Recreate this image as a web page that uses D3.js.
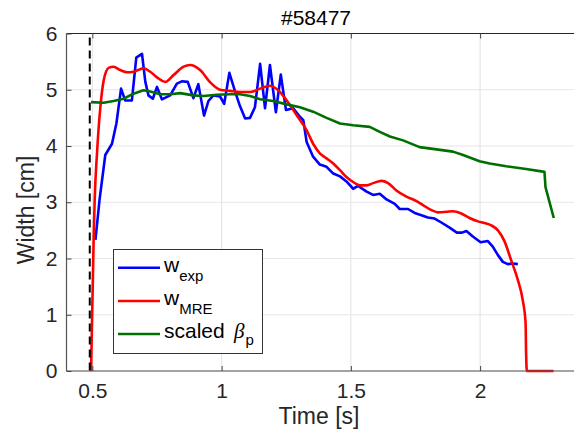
<!DOCTYPE html>
<html><head><meta charset="utf-8">
<script src="https://cdn.jsdelivr.net/npm/d3@7"></script>
<style>
html,body{margin:0;padding:0;background:#fff;}
svg{display:block;font-family:"Liberation Sans",Arial,sans-serif;}
</style></head>
<body><svg id="c" width="574" height="438"></svg>
<script>
// ---- data ----
const title = "#58477";
const xTicks = [0.5, 1, 1.5, 2];
const xTickLabels = ["0.5", "1", "1.5", "2"];
const yTicks = [0, 1, 2, 3, 4, 5, 6];
const yTickLabels = ["0", "1", "2", "3", "4", "5", "6"];
const dashedTime = 0.49;

const tExp = [0.512,0.528,0.550,0.576,0.593,0.611,0.627,0.653,0.670,0.692,0.705,0.717,0.734,0.750,0.769,0.801,0.827,0.846,0.869,0.891,0.910,0.932,0.949,0.968,0.994,1.010,1.030,1.052,1.071,1.091,1.110,1.129,1.149,1.168,1.187,1.210,1.229,1.249,1.277,1.303,1.316,1.329,1.354,1.380,1.406,1.432,1.458,1.483,1.509,1.528,1.561,1.586,1.612,1.638,1.670,1.689,1.721,1.747,1.773,1.798,1.824,1.850,1.882,1.910,1.930,1.947,1.972,2.002,2.030,2.049,2.069,2.088,2.107,2.127,2.146];
const wExp = [2.33,3.05,3.84,4.04,4.40,5.02,4.81,4.81,5.57,5.64,5.14,4.90,4.84,5.05,4.83,4.90,5.11,5.15,5.14,4.85,5.10,4.54,4.80,4.90,4.88,4.75,5.30,4.97,4.71,4.49,4.50,4.69,5.46,4.67,5.44,4.60,5.27,4.64,4.67,4.52,4.46,4.07,3.81,3.67,3.63,3.51,3.46,3.37,3.24,3.29,3.19,3.13,3.15,3.05,2.97,2.88,2.88,2.81,2.77,2.73,2.71,2.64,2.55,2.46,2.46,2.49,2.39,2.29,2.31,2.21,2.06,1.94,1.90,1.91,1.90];

const tMre = [0.495,0.505,0.509,0.518,0.531,0.544,0.563,0.582,0.608,0.634,0.659,0.698,0.724,0.750,0.782,0.814,0.853,0.878,0.917,0.956,0.994,1.033,1.071,1.110,1.149,1.187,1.219,1.252,1.290,1.329,1.354,1.380,1.406,1.432,1.458,1.483,1.509,1.535,1.561,1.586,1.619,1.644,1.676,1.715,1.754,1.779,1.812,1.837,1.870,1.895,1.927,1.959,1.992,2.017,2.043,2.069,2.095,2.120,2.146,2.165,2.176,2.178,2.181,2.284];
const wMre = [0.00,2.33,3.04,3.87,4.69,5.17,5.39,5.41,5.35,5.31,5.32,5.38,5.32,5.22,5.14,5.26,5.41,5.44,5.35,5.13,5.00,4.98,4.96,4.96,5.02,5.07,4.99,4.81,4.55,4.28,4.04,3.87,3.78,3.69,3.57,3.45,3.36,3.30,3.30,3.34,3.38,3.34,3.21,3.10,3.02,2.95,2.86,2.82,2.83,2.84,2.80,2.72,2.66,2.63,2.59,2.50,2.30,1.97,1.62,1.26,0.85,0.31,0.00,0.00];

const tBeta = [0.495,0.544,0.582,0.621,0.659,0.698,0.724,0.763,0.801,0.840,0.891,0.930,0.981,1.033,1.071,1.110,1.149,1.200,1.252,1.303,1.354,1.406,1.458,1.509,1.573,1.612,1.651,1.702,1.766,1.831,1.895,1.934,1.998,2.037,2.101,2.178,2.249,2.253,2.285];
const wBeta = [4.78,4.77,4.80,4.84,4.93,4.99,4.97,4.92,4.92,4.94,4.90,4.89,4.91,4.92,4.92,4.89,4.83,4.80,4.74,4.69,4.61,4.50,4.40,4.37,4.34,4.25,4.17,4.10,3.98,3.94,3.90,3.84,3.73,3.69,3.64,3.59,3.54,3.27,2.72];

const series = [
  {t: tExp, w: wExp, color: "#0000ff", curve: d3.curveLinear},
  {t: tMre, w: wMre, color: "#ff0000", curve: d3.curveMonotoneX},
  {t: tBeta, w: wBeta, color: "#006f00", curve: d3.curveLinear}
];

// ---- layout ----
const svg = d3.select("#c");
svg.append("rect").attr("width",574).attr("height",438).attr("fill","#fff");
const x = d3.scaleLinear().domain([0.4, 2.4]).range([66.5, 583.5]);
const y = d3.scaleLinear().domain([0, 6]).range([371, 33.5]);
const L = 66.5, R = 583.5, T = 33.5, B = 371;

// grid
const g = svg.append("g");
g.selectAll("line.gx").data(xTicks).join("line")
  .attr("x1",d=>x(d)).attr("x2",d=>x(d)).attr("y1",T).attr("y2",B)
  .attr("stroke","#e6e6e6").attr("stroke-width",1.2);
g.selectAll("line.gy").data(yTicks).join("line")
  .attr("x1",L).attr("x2",R).attr("y1",d=>y(d)).attr("y2",d=>y(d))
  .attr("stroke","#e6e6e6").attr("stroke-width",1.2);

// series
svg.append("clipPath").attr("id","cp").append("rect")
  .attr("x",L).attr("y",T).attr("width",R-L).attr("height",B-T+2);
series.forEach(s=>{
  const pts = s.t.map((t,i)=>[t, s.w[i]]);
  svg.append("path").datum(pts)
    .attr("d", d3.line().x(d=>x(d[0])).y(d=>y(d[1])).curve(s.curve))
    .attr("fill","none").attr("stroke",s.color).attr("stroke-width",2.6)
    .attr("stroke-linejoin","round").attr("clip-path","url(#cp)");
});

// dashed vertical line
svg.append("line").attr("x1",x(dashedTime)).attr("x2",x(dashedTime))
  .attr("y1",y(6)+4).attr("y2",y(0))
  .attr("stroke","#000").attr("stroke-width",2).attr("stroke-dasharray","8,5");

// axes frame
svg.append("line").attr("x1",L).attr("x2",R).attr("y1",T).attr("y2",T).attr("stroke","#262626").attr("stroke-width",1);
svg.append("line").attr("x1",L).attr("x2",R).attr("y1",B).attr("y2",B).attr("stroke","#555").attr("stroke-width",1.2);
svg.append("line").attr("x1",L).attr("x2",L).attr("y1",T).attr("y2",B).attr("stroke","#555").attr("stroke-width",1.2);

// ticks
const axX = d3.axisBottom(x).tickValues(xTicks).tickSize(-5).tickFormat((d,i)=>xTickLabels[i]);
const axXg = svg.append("g").attr("transform",`translate(0,${B})`).call(axX);
axXg.select(".domain").remove();
axXg.selectAll(".tick line").attr("stroke","#444");
axXg.selectAll(".tick text").attr("y",12).attr("dy","0.71em").attr("font-size",21).attr("fill","#262626")
  .attr("font-family","Liberation Sans, Arial, sans-serif");
const axXt = d3.axisTop(x).tickValues(xTicks).tickSize(-5).tickFormat("");
const axXtg = svg.append("g").attr("transform",`translate(0,${T})`).call(axXt);
axXtg.select(".domain").remove();
axXtg.selectAll(".tick line").attr("stroke","#444");

const axY = d3.axisLeft(y).tickValues(yTicks).tickSize(-5).tickFormat((d,i)=>yTickLabels[i]);
const axYg = svg.append("g").attr("transform",`translate(${L},0)`).call(axY);
axYg.select(".domain").remove();
axYg.selectAll(".tick line").attr("stroke","#444");
axYg.selectAll(".tick text").attr("x",-9).attr("font-size",21).attr("fill","#262626")
  .attr("font-family","Liberation Sans, Arial, sans-serif");

// title & labels
svg.append("text").attr("x",316).attr("y",25).attr("text-anchor","middle")
  .attr("font-size",21).attr("fill","#000").text(title);
svg.append("text").attr("x",319).attr("y",424).attr("text-anchor","middle")
  .attr("font-size",23).attr("fill","#262626").text("Time [s]");
svg.append("text").attr("transform","translate(34,210) rotate(-90)").attr("text-anchor","middle")
  .attr("font-size",23).attr("fill","#262626").text("Width [cm]");

// legend
const lg = svg.append("g");
lg.append("rect").attr("x",113.5).attr("y",249.5).attr("width",149).attr("height",104)
  .attr("fill","#fff").attr("stroke","#333").attr("stroke-width",1);
const legY = [267.7, 301, 334];
const legColors = ["#0000ff","#ff0000","#006f00"];
legY.forEach((ly,i)=>{
  lg.append("line").attr("x1",118).attr("x2",160).attr("y1",ly).attr("y2",ly)
    .attr("stroke",legColors[i]).attr("stroke-width",2.6);
});
const t1 = lg.append("text").attr("x",164).attr("y",272).attr("font-size",21).attr("fill","#000");
t1.append("tspan").text("w");
t1.append("tspan").attr("dy",8.5).attr("font-size",15).text("exp");
const t2 = lg.append("text").attr("x",164).attr("y",305).attr("font-size",21).attr("fill","#000");
t2.append("tspan").text("w");
t2.append("tspan").attr("dy",9.3).attr("font-size",15).text("MRE");
const t3 = lg.append("text").attr("x",164).attr("y",338).attr("font-size",21).attr("fill","#000");
t3.append("tspan").text("scaled");
t3.append("tspan").attr("x",234).attr("font-family","Liberation Serif, serif").attr("font-style","italic").attr("font-size",21).text("β");
t3.append("tspan").attr("dy",7).attr("dx",1).attr("font-size",15).text("p");
</script></body></html>
